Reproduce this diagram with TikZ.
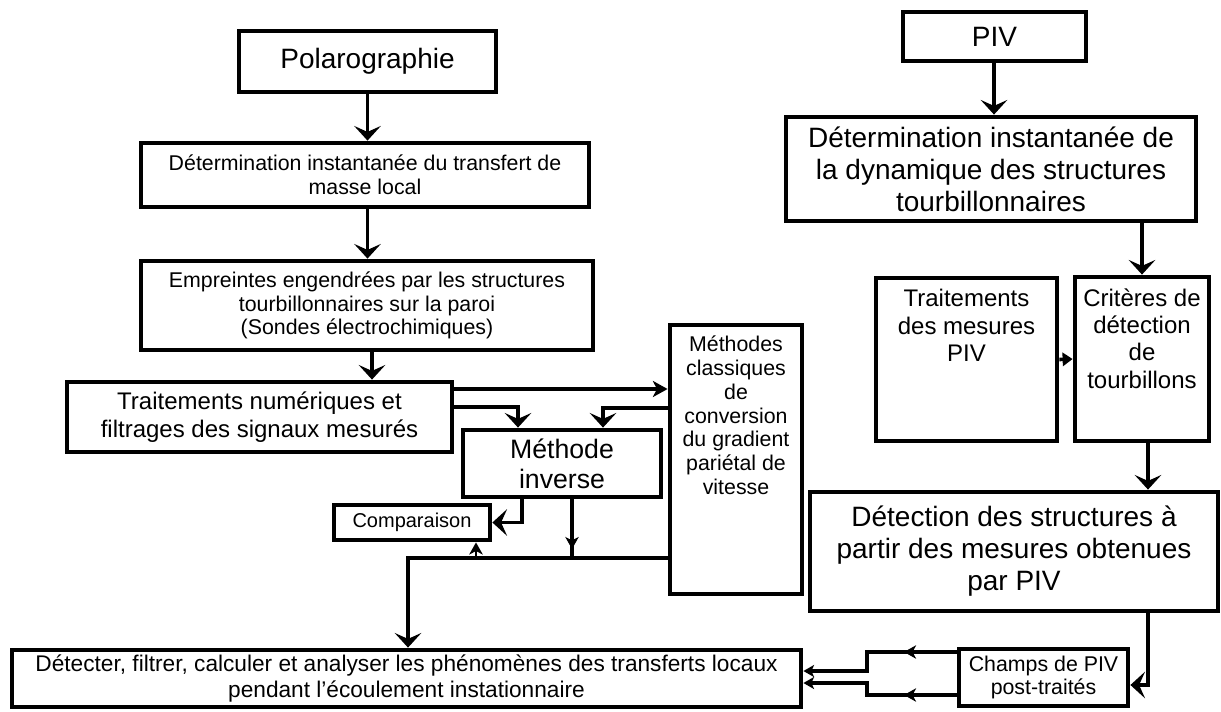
\documentclass[tikz,border=0pt]{standalone}
\usepackage{fontspec}
\setmainfont{Liberation Sans}
\usetikzlibrary{arrows.meta,calc}
\newcommand{\fntBig}{\fontsize{21}{24}\selectfont}
\newcommand{\fntInv}{\fontsize{20}{22.5}\selectfont}
\newcommand{\fntMid}{\fontsize{18}{20.5}\selectfont}
\newcommand{\fntBot}{\fontsize{17}{19.5}\selectfont}
\newcommand{\fntSmall}{\fontsize{16}{17.8}\selectfont}
\newcommand{\fntComp}{\fontsize{15}{17}\selectfont}

\begin{document}
\begin{tikzpicture}[x=0.75pt,y=-0.75pt,line width=2.7pt,
		>={Stealth[length=11pt,width=20pt,inset=4.5pt]}]
		\tikzstyle{box}=[draw,rectangle,line width=3.6pt,align=center,inner sep=0pt]
		\tikzstyle{medarr}=[-{Stealth[length=11pt,width=12pt,inset=3pt]}]
		\tikzstyle{thinarr}=[line width=2.2pt,-{Stealth[length=9pt,width=10pt,inset=2.5pt]}]
		\tikzstyle{link}=[line width=2.4pt]
		
		\useasboundingbox (0,0) rectangle (1221,711);
		
		% left column: polarographie
		\node[box,font=\fntBig,minimum width=192.75pt,minimum height=45.75pt] (pol) at (367.5,61.5) {Polarographie};
		\node[box,font=\fntSmall,minimum width=336pt,minimum height=48pt] (detL) at (365,175) {Détermination instantanée du transfert de\\masse local};
		\node[box,font=\fntSmall,minimum width=339pt,minimum height=66.75pt] (empr) at (367,305.5) {Empreintes engendrées par les structures\\tourbillonnaires sur la paroi\\(Sondes électrochimiques)};
		\node[box,font=\fntMid,minimum width=288.75pt,minimum height=52.5pt] (trait) at (259.5,417) {Traitements numériques et\\filtrages des signaux mesurés};
		\node[box,font=\fntInv,minimum width=148.5pt,minimum height=50.25pt] (inv) at (562,463.5) {Méthode\\inverse};
		\node[box,font=\fntComp,minimum width=117pt,minimum height=26.25pt] (comp) at (412,522.5) {Comparaison};
		\node[box,minimum width=99pt,minimum height=201.75pt,
			label={[font=\fntSmall,align=center,anchor=north,inner sep=0pt,yshift=-8.8pt]north:Méthodes\\classiques\\de\\conversion\\du gradient\\pariétal de\\vitesse}] (meth) at (736,459.5) {};
		\node[box,font=\fntBot,minimum width=591.75pt,minimum height=42.75pt] (bot) at (406.5,678.5) {Détecter, filtrer, calculer et analyser les phénomènes des transferts locaux\\pendant l’écoulement instationnaire};
		
		% right column: PIV
		\node[box,font=\fntBig,minimum width=137.25pt,minimum height=36.75pt] (piv) at (994.5,36.5) {PIV};
		\node[box,font=\fntBig,minimum width=307.5pt,minimum height=78pt] (detR) at (991,169) {Détermination instantanée de\\la dynamique des structures\\tourbillonnaires};
		\node[box,minimum width=135.75pt,minimum height=122.25pt,
			label={[font=\fntMid,align=center,anchor=north,inner sep=0pt,yshift=-9pt]north:Traitements\\des mesures\\PIV}] (tmes) at (966.5,359.5) {};
		\node[box,minimum width=100.5pt,minimum height=123pt,
			label={[font=\fntMid,align=center,anchor=north,inner sep=0pt,yshift=-9pt]north:Critères de\\détection\\de\\tourbillons}] (crit) at (1142,359) {};
		\node[box,font=\fntBig,minimum width=306pt,minimum height=89.25pt] (detc) at (1014,551.5) {Détection des structures à\\partir des mesures obtenues\\par PIV};
		\node[box,font=\fntSmall,minimum width=126.75pt,minimum height=42.75pt] (champs) at (1043.5,677.5) {Champs de PIV\\post-traités};
		
		\coordinate (jc) at (476,558);
		\coordinate (ji) at (572,558);
		
		% left links
		\draw[->] (pol.south) -- (pol.south |- detL.north);
		\draw[->] (pol.south |- detL.south) -- (pol.south |- empr.north);
		\draw[->] (empr.south -| 372,0) -- (trait.north -| 372,0);
		\draw[medarr] (trait.east |- 0,389) -- (meth.west |- 0,389);
		\draw[->] (trait.east |- 0,407) -| (inv.north -| 518,0);
		\draw[->] (meth.west |- 0,408) -| (inv.north -| 603,0);
		\draw[->,link] (inv.south -| 522,0) |- (comp.east);
		\draw[link] (inv.south -| ji) -- (ji);
		\draw[thinarr] (inv.south -| ji) -- ($(ji)+(0,-9)$);
		\draw[->,link] (meth.west |- ji) -| (bot.north -| 408,0);
		\draw[thinarr] (jc) -- (comp.south -| jc);
		
		% right links
		\draw[->] (piv.south -| 994,0) -- (detR.north -| 994,0);
		\draw[->] (detR.south -| crit.north) -- (crit.north);
		\draw[-{Triangle[length=7.5pt,width=10pt]}] (tmes.east) -- (crit.west);
		\draw[->] (crit.south -| 1148,0) -- (detc.north -| 1148,0);
		\draw[->,link] (detc.south -| 1148,0) |- (champs.east |- 0,685);
		\draw[link,-{Stealth[length=8pt,width=9pt,inset=2pt]}] (champs.west |- 0,652) -| (867,671) -- (bot.east |- 0,671);
		\draw[link,-{Stealth[length=8pt,width=9pt,inset=2pt]}] (champs.west |- 0,695) -| (867,683) -- (bot.east |- 0,683);
		\draw[thinarr] (champs.west |- 0,652) -- (904,652);
		\draw[thinarr] (champs.west |- 0,695) -- (904,695);
\end{tikzpicture}
\end{document}
